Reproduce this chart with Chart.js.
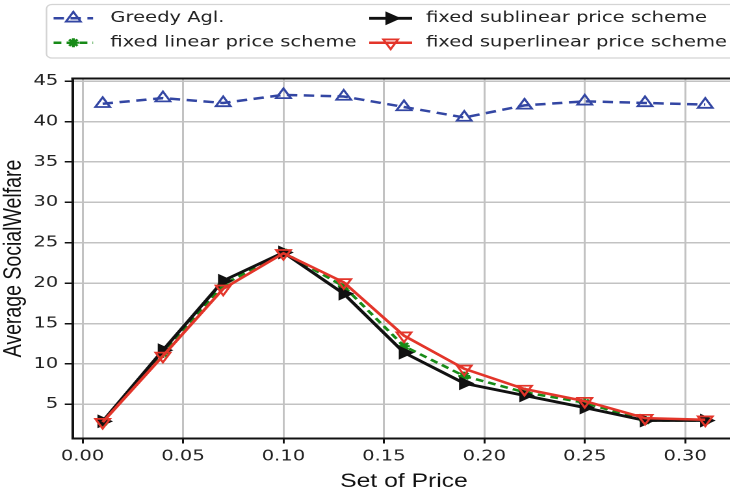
<!DOCTYPE html>
<html><head><meta charset="utf-8">
<script src="https://cdn.jsdelivr.net/npm/chart.js@4/dist/chart.umd.min.js"></script>
<style>
html,body{margin:0;padding:0;overflow:hidden;background:#fff;width:730px;height:492px;}
#wrap{position:absolute;left:0;top:0;width:574px;height:492px;transform:scaleX(1.3);transform-origin:0 0;}
</style></head><body>
<div id="wrap"><canvas id="c"></canvas></div>
<script>
// ---- data ----
const prices = [0.01, 0.04, 0.07, 0.10, 0.13, 0.16, 0.19, 0.22, 0.25, 0.28, 0.31];
const greedy = [42.2, 42.9, 42.3, 43.3, 43.1, 41.8, 40.5, 42.0, 42.5, 42.3, 42.1];
const linearScheme = [2.8, 11.3, 19.8, 23.8, 19.6, 12.2, 8.5, 6.5, 5.2, 3.0, 3.0];
const sublinearScheme = [2.9, 11.7, 20.3, 23.8, 18.7, 11.4, 7.6, 6.1, 4.6, 3.0, 3.0];
const superlinearScheme = [2.8, 11.0, 19.3, 23.7, 20.1, 13.5, 9.4, 6.9, 5.4, 3.3, 3.1];
const seriesLabels = ['Greedy Agl.', 'fixed linear price scheme', 'fixed sublinear price scheme', 'fixed superlinear price scheme'];
const xTickValues = [0.00, 0.05, 0.10, 0.15, 0.20, 0.25, 0.30];
const yTickValues = [5, 10, 15, 20, 25, 30, 35, 40, 45];
const xTitle = 'Set of Price';
const yTitle = 'Average SocialWelfare';

const pts = arr => arr.map((v, i) => ({x: prices[i], y: v}));
const allY = [].concat(greedy, linearScheme, sublinearScheme, superlinearScheme);
const yLo = Math.min(...allY), yHi = Math.max(...allY), yPad = (yHi - yLo) * 0.05;
const xLo = Math.min(...prices), xHi = Math.max(...prices), xPad = (xHi - xLo) * 0.05;

const tickFont = {family: '"DejaVu Sans"', size: 15};
const titleFont = {family: '"Liberation Sans", Arial', size: 19, lineHeight: 1.1};

const frameLegend = {
  id: 'frameLegend',
  afterDatasetsDraw(chart) {
    const {ctx, chartArea: a} = chart;
    ctx.save();
    ctx.strokeStyle = '#111';
    ctx.lineWidth = 2;
    ctx.beginPath();
    ctx.moveTo(a.left - 1, a.top); ctx.lineTo(a.right, a.top); ctx.lineTo(a.right, a.bottom);
    ctx.stroke();
    ctx.restore();
  },
  afterDraw(chart) {
    const ctx = chart.ctx;
    ctx.save();
    const bx = 35.8, by = 4.5, bw = 620, bh = 53.5, r = 4;
    ctx.beginPath();
    ctx.moveTo(bx + r, by); ctx.lineTo(bx + bw - r, by); ctx.arcTo(bx + bw, by, bx + bw, by + r, r);
    ctx.lineTo(bx + bw, by + bh - r); ctx.arcTo(bx + bw, by + bh, bx + bw - r, by + bh, r);
    ctx.lineTo(bx + r, by + bh); ctx.arcTo(bx, by + bh, bx, by + bh - r, r);
    ctx.lineTo(bx, by + r); ctx.arcTo(bx, by, bx + r, by, r);
    ctx.closePath();
    ctx.fillStyle = 'rgba(255,255,255,0.85)';
    ctx.fill();
    ctx.strokeStyle = '#d4d4d4';
    ctx.lineWidth = 1.2;
    ctx.stroke();
    const cols = [{h0: 41.2, h1: 71.6, tx: 84.9}, {h0: 284, h1: 317, tx: 327.7}];
    const rows = [18.3, 42.7];
    chart.data.datasets.forEach((ds, i) => {
      const col = cols[Math.floor(i / 2)], y = rows[i % 2];
      ctx.strokeStyle = ds.borderColor;
      ctx.lineWidth = ds.borderWidth;
      ctx.setLineDash(ds.borderDash || []);
      ctx.beginPath(); ctx.moveTo(col.h0, y); ctx.lineTo(col.h1, y); ctx.stroke();
      ctx.setLineDash([]);
      ctx.fillStyle = ds.pointBackgroundColor;
      ctx.strokeStyle = ds.pointBorderColor;
      ctx.lineWidth = ds.pointBorderWidth;
      Chart.helpers.drawPoint(ctx, {pointStyle: ds.pointStyle, rotation: ds.pointRotation || 0,
        radius: ds.pointRadius, borderWidth: ds.pointBorderWidth}, (col.h0 + col.h1) / 2, y);
      ctx.fillStyle = '#222';
      ctx.font = '15px "DejaVu Sans"';
      ctx.textBaseline = 'middle';
      ctx.textAlign = 'left';
      ctx.fillText(ds.label, col.tx, y);
    });
    ctx.restore();
  }
};

new Chart(document.getElementById('c'), {
  type: 'line',
  data: {
    datasets: [
      {label: seriesLabels[0], data: pts(greedy), borderColor: '#3346a3', borderWidth: 2.5, borderDash: [8, 5],
       pointStyle: 'triangle', pointRadius: 6.5, pointBorderWidth: 1.8, pointBorderColor: '#3346a3',
       pointBackgroundColor: 'rgba(255,255,255,0)', order: 3},
      {label: seriesLabels[1], data: pts(linearScheme), borderColor: '#178a17', borderWidth: 2.5, borderDash: [6, 4],
       pointStyle: 'star', pointRadius: 4.5, pointBorderWidth: 2.2, pointBorderColor: '#178a17',
       pointBackgroundColor: '#178a17', order: 2},
      {label: seriesLabels[2], data: pts(sublinearScheme), borderColor: '#111111', borderWidth: 2.8,
       pointStyle: 'triangle', pointRotation: 90, pointRadius: 7, pointBorderWidth: 1, pointBorderColor: '#111111',
       pointBackgroundColor: '#111111', order: 1},
      {label: seriesLabels[3], data: pts(superlinearScheme), borderColor: '#e3352a', borderWidth: 2.5,
       pointStyle: 'triangle', pointRotation: 180, pointRadius: 6.5, pointBorderWidth: 1.8, pointBorderColor: '#e3352a',
       pointBackgroundColor: 'rgba(255,255,255,0)', order: 0}
    ]
  },
  options: {
    responsive: true, maintainAspectRatio: false, animation: false, devicePixelRatio: 2,
    layout: {padding: {top: 78.5, right: 4.6, bottom: 0, left: 0}},
    plugins: {legend: {display: false}, tooltip: {enabled: false}},
    elements: {line: {tension: 0}},
    scales: {
      x: {
        type: 'linear', min: xLo - xPad, max: xHi + xPad,
        afterBuildTicks: s => { s.ticks = xTickValues.map(v => ({value: v})); },
        afterFit: s => { s.height = 53.5; },
        ticks: {font: tickFont, color: '#222', padding: 4, autoSkip: false, maxRotation: 0,
                callback: v => Number(v).toFixed(2)},
        grid: {color: '#c2c2c2', lineWidth: 1.5, tickLength: 5, tickColor: '#111', tickWidth: 1.5},
        border: {display: true, color: '#111', width: 2},
        title: {display: true, text: xTitle, font: titleFont, color: '#111', padding: {top: 0, bottom: 0}}
      },
      y: {
        type: 'linear', min: yLo - yPad, max: yHi + yPad,
        afterBuildTicks: s => { s.ticks = yTickValues.map(v => ({value: v})); },
        afterFit: s => { s.width = 55.8; },
        ticks: {font: tickFont, color: '#222', padding: 5, autoSkip: false, callback: v => String(v)},
        grid: {color: '#c2c2c2', lineWidth: 1.5, tickLength: 6, tickColor: '#111', tickWidth: 1.5},
        border: {display: true, color: '#111', width: 2},
        title: {display: true, text: yTitle, font: {family: '"Liberation Sans", Arial', size: 19.5, lineHeight: 1.1},
                color: '#111', padding: {top: 0, bottom: 0}}
      }
    }
  },
  plugins: [frameLegend]
});
</script>
</body></html>
